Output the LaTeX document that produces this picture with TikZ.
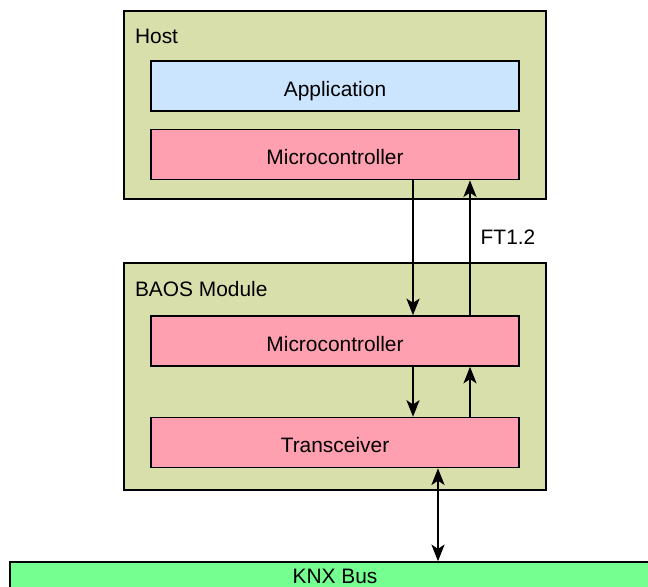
\documentclass[tikz,border=0pt]{standalone}
\usepackage{fontspec}
\setmainfont{Liberation Sans}
\usetikzlibrary{positioning,arrows.meta,calc}
\definecolor{hostbg}{RGB}{217,223,171}
\definecolor{appblue}{RGB}{204,229,255}
\definecolor{mcpink}{RGB}{255,160,176}
\definecolor{busgreen}{RGB}{117,255,145}

\begin{document}
\begin{tikzpicture}[x=0.02cm, y=-0.02cm, font=\fontsize{11.9}{14}\selectfont, line width=0.9pt,
  group/.style={draw, fill=hostbg, minimum width=8.44cm},
  layer/.style={draw, minimum width=7.36cm, minimum height=1cm, text height=11.5pt, text depth=0pt},
  link/.style={-{Stealth[length=9.5pt,width=7.5pt,inset=2.5pt]}},
  duplex/.style={{Stealth[length=9.5pt,width=7.5pt,inset=2.5pt]}-{Stealth[length=9.5pt,width=7.5pt,inset=2.5pt]}}]

\clip (0,0) rectangle (648,586);

% outer boxes
\node [group, minimum height=3.76cm] (host) at (335,105) {};
\node [group, minimum height=4.54cm] (baos) at (335,376.5) {};
\node [anchor=base west, inner sep=0pt] (hostlbl) at ($(host.north west)+(11,33)$) {Host};
\node [anchor=base west, inner sep=0pt] (baoslbl) at ($(baos.north west)+(11,34)$) {BAOS Module};

% layers
\node [layer, fill=appblue] (app) at (335,86) {Application};
\node [layer, fill=mcpink, below=0.34cm of app] (hmc) {Microcontroller};
\node [layer, fill=mcpink] (bmc) at (335,341) {Microcontroller};
\node [layer, fill=mcpink, below=1cm of bmc] (trx) {Transceiver};

\node [draw, fill=busgreen, minimum width=13cm, minimum height=0.56cm] (bus) at (335,576) {KNX Bus};

% connections
\draw [link] ($(hmc.south)+(78,0)$) -- ($(bmc.north)+(78,0)$);
\draw [link] ($(bmc.north)+(135,0)$) -- ($(hmc.south)+(135,0)$);
\node (ft) at (508,237) {FT1.2};
\draw [link] ($(bmc.south)+(78,0)$) -- ($(trx.north)+(78,0)$);
\draw [link] ($(trx.north)+(135,0)$) -- ($(bmc.south)+(135,0)$);
\coordinate (tap) at ($(trx.south)+(103,0)$);
\draw [duplex] (tap) -- (tap |- bus.north);

\end{tikzpicture}
\end{document}
